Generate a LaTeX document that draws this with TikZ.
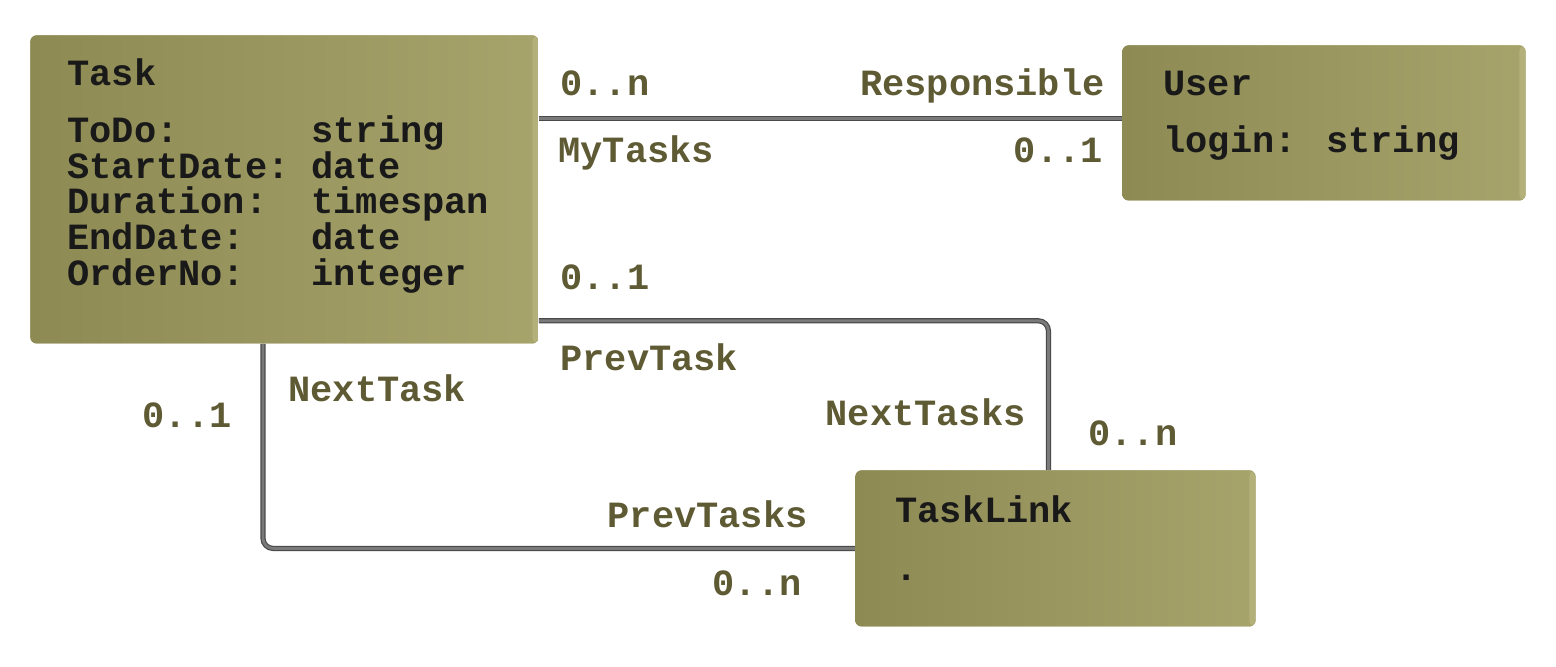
\documentclass[tikz,border=0pt]{standalone}
\usepackage{fontspec}
\setmainfont{Liberation Mono}
\usetikzlibrary{positioning, calc}
\definecolor{boxdark}{HTML}{8D8A54}
\definecolor{boxlight}{HTML}{A6A36B}
\definecolor{boxedge}{HTML}{B3B07A}
\definecolor{linkgray}{HTML}{4A4A4A}
\definecolor{linkcore}{HTML}{7A7A7A}
\definecolor{roletext}{HTML}{5E5A33}

\begin{document}
\begin{tikzpicture}[
    x=0.5pt, y=-0.5pt,
    every node/.style={font=\fontsize{18.5}{18}\selectfont\bfseries, inner sep=0pt},
    classbox/.style={
        rectangle,
        rounded corners=3pt,
        left color=boxdark,
        right color=boxlight,
        draw=none,
        anchor=north west,
        path picture={
            \fill[boxedge] ([xshift=-3pt]path picture bounding box.north east)
                rectangle (path picture bounding box.south east);
        }
    },
    boxtext/.style={
        text=black!90,
        anchor=base west
    },
    link/.style={
        draw=linkgray,
        line width=0.6pt,
        double=linkcore,
        double distance=1.4pt
    },
    role/.style={
        text=roletext
    }
]
\useasboundingbox (0,0) rectangle (1556,666);

% Classes
\node[classbox, minimum width=254pt, minimum height=154pt] (task) at (30,35) {};
\node[classbox, minimum width=201.5pt, minimum height=77.5pt] (user) at (1122,45) {};
\node[classbox, minimum width=200pt, minimum height=78pt] (tasklink) at (855,470) {};

% Ports
\coordinate (userport) at ([yshift=2.25pt]user.west);
\coordinate (prevport) at ([yshift=11.5pt]task.south east);
\coordinate (nextsport) at ([xshift=-3.5pt]tasklink.north);
\coordinate (nextport) at ([xshift=116.5pt]task.south west);

% Associations
\draw[link] (task.east |- userport) -- (userport);
\draw[link, rounded corners=5pt] (prevport) -| (nextsport);
\draw[link, rounded corners=5pt] (nextport) |- (tasklink.west);

% Redraw boxes over line ends
\node[classbox, minimum width=254pt, minimum height=154pt] at (task.north west) {};
\node[classbox, minimum width=201.5pt, minimum height=77.5pt] at (user.north west) {};
\node[classbox, minimum width=200pt, minimum height=78pt] at (tasklink.north west) {};

% Task contents
\node[boxtext] (tasktitle) at ([shift={(37,50)}]task.north west) {Task};
\foreach \attr/\type [count=\i] in {ToDo:/string, StartDate:/date, Duration:/timespan, EndDate:/date, OrderNo:/integer} {
    \node[boxtext] (attr\i) at ([shift={(37,71.8+35.7*\i)}]task.north west) {\attr};
    \node[boxtext] (type\i) at ([shift={(281,71.8+35.7*\i)}]task.north west) {\type};
}

% User contents
\node[boxtext] (usertitle) at ([shift={(41,50)}]user.north west) {User};
\node[boxtext] (userlogin) at ([shift={(41,107)}]user.north west) {login: string};

% TaskLink contents
\node[boxtext] (linktitle) at ([shift={(40,52)}]tasklink.north west) {TaskLink};
\node[boxtext] (linkdot) at ([shift={(40,110)}]tasklink.north west) {.};

% Roles and multiplicities
\node[role, anchor=base west] (mult1) at (560,95) {0..n};
\node[role, anchor=base east] (resp) at (1105,95) {Responsible};
\node[role, anchor=base west] (mytasks) at (558,162) {MyTasks};
\node[role, anchor=base east] (mult2) at (1103,162) {0..1};
\node[role, anchor=base west] (mult3) at (560,289) {0..1};
\node[role, anchor=base west] (prevtask) at (560,370) {PrevTask};
\node[role, anchor=base east] (nexttasks) at (1026,425) {NextTasks};
\node[role, anchor=base west] (mult4) at (1088,445) {0..n};
\node[role, anchor=base west] (nexttask) at (288,401) {NextTask};
\node[role, anchor=base east] (mult5) at (232,427) {0..1};
\node[role, anchor=base east] (prevtasks) at (808,527) {PrevTasks};
\node[role, anchor=base east] (mult6) at (802,595) {0..n};

\end{tikzpicture}
\end{document}
